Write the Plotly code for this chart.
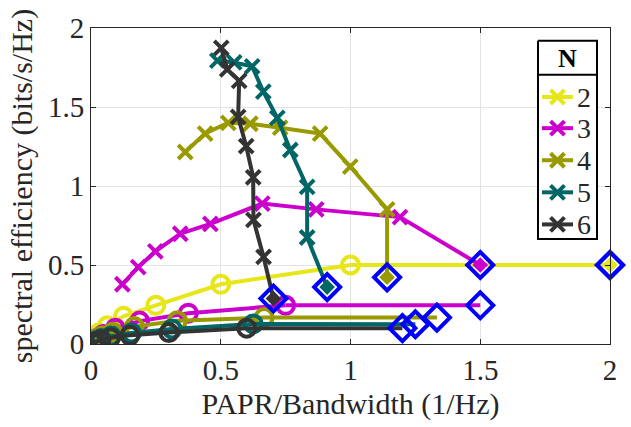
import plotly.graph_objects as go

# ---------------- data ----------------
N_LABELS = ["2", "3", "4", "5", "6"]
COLORS = ["#e6e619", "#cc00cc", "#999900", "#006666", "#333333"]

# high-efficiency curves ('x' markers); last point is the diamond end point
x_hi_2 = [2.0]
y_hi_2 = [0.5]
x_hi_3 = [0.121, 0.182, 0.248, 0.344, 0.46, 0.66, 0.868, 1.191, 1.5]
y_hi_3 = [0.378, 0.486, 0.586, 0.698, 0.76, 0.889, 0.852, 0.803, 0.5]
x_hi_4 = [0.363, 0.44, 0.529, 0.614, 0.729, 0.883, 0.999, 1.141, 1.141]
y_hi_4 = [1.215, 1.332, 1.4, 1.394, 1.369, 1.332, 1.123, 0.852, 0.422]
x_hi_5 = [0.487, 0.552, 0.621, 0.664, 0.718, 0.768, 0.833, 0.833, 0.91]
y_hi_5 = [1.794, 1.782, 1.757, 1.597, 1.431, 1.228, 0.994, 0.674, 0.36]
x_hi_6 = [0.502, 0.525, 0.571, 0.567, 0.598, 0.625, 0.626, 0.665, 0.703]
y_hi_6 = [1.874, 1.738, 1.665, 1.437, 1.252, 1.055, 0.786, 0.551, 0.288]

# low-efficiency curves ('o' markers) and their diamond end points
x_lo_2 = [0.008, 0.016, 0.031, 0.0625, 0.125, 0.25, 0.5, 1.0]
y_lo_2 = [0.02, 0.04, 0.07, 0.115, 0.175, 0.245, 0.378, 0.5]
end_lo_2 = (2.0, 0.5)
x_lo_3 = [0.012, 0.023, 0.047, 0.094, 0.1875, 0.375, 0.75]
y_lo_3 = [0.02, 0.035, 0.06, 0.1, 0.145, 0.195, 0.245]
end_lo_3 = (1.5, 0.245)
x_lo_4 = [0.01, 0.021, 0.042, 0.083, 0.167, 0.333, 0.667]
y_lo_4 = [0.015, 0.03, 0.05, 0.075, 0.11, 0.147, 0.167]
end_lo_4 = (1.333, 0.167)
x_lo_5 = [0.01, 0.02, 0.039, 0.078, 0.156, 0.3125, 0.625]
y_lo_5 = [0.01, 0.02, 0.035, 0.05, 0.07, 0.095, 0.127]
end_lo_5 = (1.25, 0.125)
x_lo_6 = [0.009, 0.019, 0.0375, 0.075, 0.15, 0.3, 0.6]
y_lo_6 = [0.005, 0.012, 0.025, 0.04, 0.055, 0.072, 0.1]
end_lo_6 = (1.2, 0.1)

X_TICKS = [0, 0.5, 1, 1.5, 2]
X_TICK_TEXT = ["0", "0.5", "1", "1.5", "2"]
Y_TICKS = [0, 0.5, 1, 1.5, 2]
Y_TICK_TEXT = ["0", "0.5", "1", "1.5", "2"]

hi = [(x_hi_2, y_hi_2), (x_hi_3, y_hi_3), (x_hi_4, y_hi_4), (x_hi_5, y_hi_5), (x_hi_6, y_hi_6)]
lo = [(x_lo_2, y_lo_2, end_lo_2), (x_lo_3, y_lo_3, end_lo_3), (x_lo_4, y_lo_4, end_lo_4),
      (x_lo_5, y_lo_5, end_lo_5), (x_lo_6, y_lo_6, end_lo_6)]

FONT = "Liberation Serif, Times New Roman, serif"
TXT = "#262626"
LW = 4
XMARK = dict(symbol="x-thin", size=14)
XMARK_LW = 4

# figure geometry (pixels)
W, H = 631, 427
ML, MR, MT, MB = 91, 21, 25, 77
PX0, PX1 = ML, W - MR
PY0, PY1 = MT, H - MB

fig = go.Figure()

for i in range(5):
    c = COLORS[i]
    xl, yl, e = lo[i]
    fig.add_trace(go.Scatter(x=[xl[-1], e[0]], y=[yl[-1], e[1]], mode="lines",
                             line=dict(color=c, width=LW), showlegend=False, hoverinfo="skip"))
    fig.add_trace(go.Scatter(x=xl, y=yl, mode="lines+markers",
                             line=dict(color=c, width=LW),
                             marker=dict(symbol="circle-open", size=17, color=c, line=dict(width=4, color=c)),
                             showlegend=False, hoverinfo="skip"))
    xh, yh = hi[i]
    if len(xh) > 1:
        fig.add_trace(go.Scatter(x=xh[:-1], y=yh[:-1], mode="lines+markers",
                                 line=dict(color=c, width=LW),
                                 marker=dict(color=c, line=dict(width=XMARK_LW, color=c), **XMARK),
                                 showlegend=False, hoverinfo="skip"))
        fig.add_trace(go.Scatter(x=xh[-2:], y=yh[-2:], mode="lines",
                                 line=dict(color=c, width=LW), showlegend=False, hoverinfo="skip"))
    fig.add_trace(go.Scatter(x=[xh[-1]], y=[yh[-1]], mode="markers",
                             marker=dict(symbol="diamond", size=12, color=c),
                             showlegend=False, hoverinfo="skip", cliponaxis=False))

# blue diamonds at end points
dx = [h[0][-1] for h in hi] + [l[2][0] for l in lo]
dy = [h[1][-1] for h in hi] + [l[2][1] for l in lo]
fig.add_trace(go.Scatter(x=dx, y=dy, mode="markers", cliponaxis=False,
                         marker=dict(symbol="diamond-open", size=20, color="#0000ff",
                                     line=dict(width=4, color="#0000ff")),
                         showlegend=False, hoverinfo="skip"))

# ---------------- manual legend (overlay axes in pixel units) ----------------
LEG_L, LEG_R, LEG_T, LEG_B, LEG_SEP = 538, 597, 38, 242, 73
LEG_ROWS = [96, 128, 161, 194, 227]
LINE_X0, LINE_X1, TEXT_X = 542, 573, 575

fig.add_trace(go.Scatter(x=[LEG_L, LEG_R, LEG_R, LEG_L, LEG_L], y=[LEG_T, LEG_T, LEG_B, LEG_B, LEG_T],
                         mode="lines", fill="toself", fillcolor="white",
                         line=dict(color="#000000", width=2), xaxis="x2", yaxis="y2",
                         showlegend=False, hoverinfo="skip"))
fig.add_trace(go.Scatter(x=[LEG_L, LEG_R], y=[LEG_SEP, LEG_SEP], mode="lines",
                         line=dict(color="#000000", width=2), xaxis="x2", yaxis="y2",
                         showlegend=False, hoverinfo="skip"))
for i in range(5):
    c = COLORS[i]
    yy = LEG_ROWS[i]
    fig.add_trace(go.Scatter(x=[LINE_X0, LINE_X1], y=[yy, yy], mode="lines",
                             line=dict(color=c, width=LW), xaxis="x2", yaxis="y2",
                             showlegend=False, hoverinfo="skip"))
    fig.add_trace(go.Scatter(x=[(LINE_X0 + LINE_X1) / 2], y=[yy], mode="markers",
                             marker=dict(color=c, line=dict(width=XMARK_LW, color=c), **XMARK),
                             xaxis="x2", yaxis="y2", showlegend=False, hoverinfo="skip"))
    fig.add_annotation(x=TEXT_X, y=yy, xref="x2", yref="y2", text=N_LABELS[i], showarrow=False,
                       xanchor="left", yanchor="middle",
                       font=dict(family=FONT, size=28, color=TXT))
fig.add_annotation(x=(LEG_L + LEG_R) / 2, y=(LEG_T + LEG_SEP) / 2 + 1, xref="x2", yref="y2",
                   text="<b>N</b>", showarrow=False, xanchor="center", yanchor="middle",
                   font=dict(family=FONT, size=26, color="#000000"))

axis_common = dict(
    showline=True, linecolor=TXT, linewidth=1, mirror="ticks",
    ticks="inside", ticklen=5, tickcolor=TXT, tickwidth=1,
    showgrid=True, gridcolor="#e3e3e3", gridwidth=1, zeroline=False,
    tickfont=dict(family=FONT, size=29, color=TXT),
)

fig.update_layout(
    width=W, height=H,
    margin=dict(l=ML, r=MR, t=MT, b=MB),
    plot_bgcolor="white", paper_bgcolor="white",
    font=dict(family=FONT, color=TXT),
    showlegend=False,
    xaxis=dict(range=[0, 2], tickvals=X_TICKS, ticktext=X_TICK_TEXT,
               title=dict(text="PAPR/Bandwidth (1/Hz)", font=dict(family=FONT, size=30, color=TXT),
                          standoff=8),
               **axis_common),
    yaxis=dict(range=[0, 2], tickvals=Y_TICKS, ticktext=Y_TICK_TEXT,
               title=dict(text="spectral efficiency (bits/s/Hz)", font=dict(family=FONT, size=30, color=TXT),
                          standoff=6),
               **axis_common),
    xaxis2=dict(overlaying="x", range=[PX0, PX1], visible=False, fixedrange=True),
    yaxis2=dict(overlaying="y", range=[PY1, PY0], visible=False, fixedrange=True),
)

fig.write_html("out.html")
